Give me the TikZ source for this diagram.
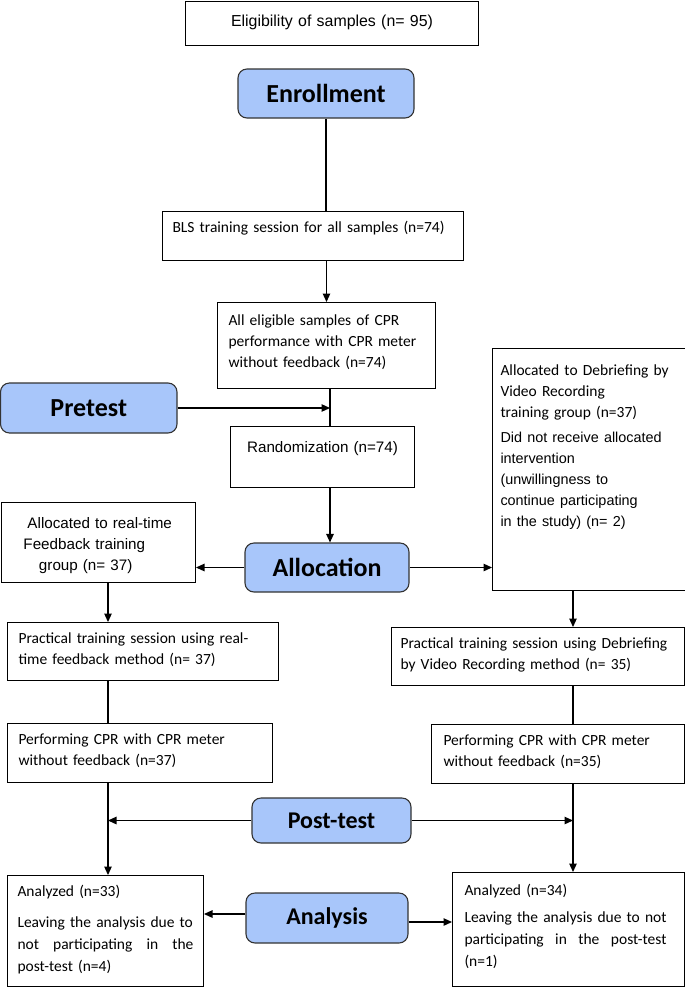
\documentclass[tikz,border=0pt]{standalone}
\usepackage{fontspec}
\setmainfont{Carlito}
\newfontfamily\arialfont{Liberation Sans}
\usetikzlibrary{arrows.meta}
\definecolor{stageblue}{HTML}{A8C6FA}
\newcommand{\arialtext}{\arialfont\fontsize{15.2}{20.8}\selectfont}
\newcommand{\arialsmall}{\arialfont\fontsize{14.4}{20.8}\selectfont}
\begin{document}
\begin{tikzpicture}[
        x=1pt, y=-1pt,
        box/.style={draw, line width=1pt, inner ysep=0pt, align=left, anchor=north west,
            font=\fontsize{15.5}{20.8}\selectfont},
        stage/.style={draw=black!80, fill=stageblue, rounded corners=9pt, line width=1.1pt,
            inner sep=0pt, font=\fontsize{26}{30}\selectfont\bfseries},
        arr/.style={line width=1.2pt, -{Triangle[length=8.5pt,width=7.5pt]}},
        link/.style={line width=1.2pt}
    ]
        \useasboundingbox (0,0) rectangle (685,989);

        % stages of the study
        \node[stage, minimum width=176pt, minimum height=49pt] (enroll) at (326,93.5) {Enrollment};
        \node[stage, minimum width=176.5pt, minimum height=50pt] (pretest) at (88.75,408) {Pretest};
        \node[stage, minimum width=164pt, minimum height=49pt] (alloc) at (327,567.5) {Allocation};
        \node[stage, minimum width=159pt, minimum height=45pt, font=\fontsize{24}{28}\selectfont\bfseries] (posttest) at (331.5,820.5) {Post-test};
        \node[stage, minimum width=162pt, minimum height=50pt, font=\fontsize{24}{28}\selectfont\bfseries] (analysis) at (327,918) {Analysis};

        % centre column
        \node[box, inner xsep=5pt, text width=283pt, align=center, text height=25.5pt, text depth=19pt,
            font=\arialfont\fontsize{15.9}{20}\selectfont] (elig) at (185,0.5) {Eligibility of samples (n= 95)};
        \node[box, inner xsep=10pt, text width=281pt, text height=21pt, text depth=28pt] (bls) at (162,211)
            {BLS training session for all samples (n=74)};
        \node[box, inner xsep=11pt, text width=196pt, text height=23pt, text depth=63pt] (elig74) at (217,302)
            {All eligible samples of CPR\\performance with CPR meter\\without feedback (n=74)};
        \node[box, inner xsep=5pt, text width=174pt, align=center, text height=26pt, text depth=35pt,
            font=\arialtext] (random) at (230,426) {Randomization (n=74)};

        % real-time feedback group
        \node[box, inner xsep=0pt, text width=194.5pt, text height=26pt, text depth=54pt, font=\arialtext] (feedback) at (0.5,502)
            {\hspace*{26.5pt}Allocated to real-time\\\hspace*{22.5pt}Feedback training\\\hspace*{38pt}group (n= 37)};
        \node[box, inner xsep=11pt, text width=249pt, text height=21pt, text depth=37pt] (practrt) at (7,622)
            {Practical training session using real-\\time feedback method (n= 37)};
        \node[box, inner xsep=11pt, text width=243pt, text height=21pt, text depth=38pt] (perfrt) at (7,723)
            {Performing CPR with CPR meter\\without feedback (n=37)};
        \node[box, inner xsep=10pt, text width=176pt, text height=21pt, text depth=90pt,
            font=\fontsize{15.5}{22}\selectfont] (analyzedrt) at (7,875)
            {Analyzed (n=33)\\[9pt]Leaving the analysis due to\\\makebox[176pt][s]{not\hfill participating\hfill in\hfill the}\\post-test (n=4)};

        % video debriefing group
        \node[box, inner xsep=8pt, text width=176.5pt, text height=27pt, text depth=215pt] (debrief) at (492,348)
            {Allocated to Debriefing by\\Video Recording\\training group (n=37)\\[5pt]{\arialsmall Did not receive allocated\\intervention\\(unwillingness to\\continue participating\\in the study) (n= 2)}};
        \node[box, inner xsep=9pt, text width=275pt, text height=21pt, text depth=37pt] (practvid) at (391,627)
            {Practical training session using Debriefing\\by Video Recording method (n= 35)};
        \node[box, inner xsep=12pt, text width=229pt, text height=21pt, text depth=38pt] (perfvid) at (431,724)
            {Performing CPR with CPR meter\\without feedback (n=35)};
        \node[box, inner xsep=12pt, text width=208pt, text height=23pt, text depth=91pt,
            font=\fontsize{15.5}{22}\selectfont] (analyzedvid) at (452,872)
            {Analyzed (n=34)\\[5pt]Leaving the analysis due to not\\\makebox[202pt][s]{participating\hfill in\hfill the\hfill post-test}\\(n=1)};

        % vertical guide lines
        \coordinate (cspine) at (330,0);
        \coordinate (lspine) at (108,0);
        \coordinate (rspine) at (573,0);

        % connectors
        \draw[link] (enroll.south) -- (enroll.south |- bls.north);
        \draw[arr] (elig74.north |- bls.south) -- (elig74.north);
        \draw[link] (cspine |- elig74.south) -- (cspine |- random.north);
        \draw[arr] (pretest.east) -- (pretest.east -| cspine);
        \draw[arr] (cspine |- random.south) -- (cspine |- alloc.north);
        \draw[arr] (alloc.west) -- (alloc.west -| feedback.east);
        \draw[arr] (alloc.east) -- (alloc.east -| debrief.west);
        \draw[arr] (lspine |- feedback.south) -- (lspine |- practrt.north);
        \draw[arr] (rspine |- debrief.south) -- (rspine |- practvid.north);
        \draw[link] (lspine |- practrt.south) -- (lspine |- perfrt.north);
        \draw[link] (rspine |- practvid.south) -- (rspine |- perfvid.north);
        \draw[arr] (lspine |- perfrt.south) -- (lspine |- analyzedrt.north);
        \draw[arr] (rspine |- perfvid.south) -- (rspine |- analyzedvid.north);
        \draw[arr] (posttest.west) -- (posttest.west -| lspine);
        \draw[arr] (posttest.east) -- (posttest.east -| rspine);
        \draw[arr] ([yshift=4pt]analysis.west) -- ([yshift=4pt]analysis.west -| analyzedrt.east);
        \draw[arr] ([yshift=-4pt]analysis.east) -- ([yshift=-4pt]analysis.east -| analyzedvid.west);
    \end{tikzpicture}
\end{document}
